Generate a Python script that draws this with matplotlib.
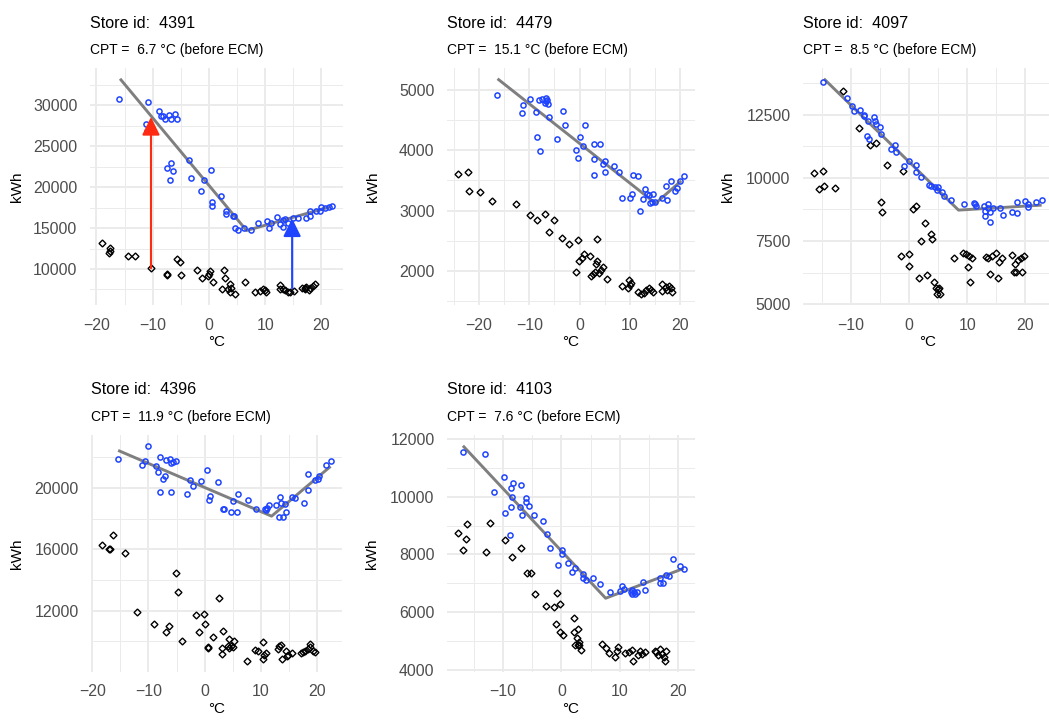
import numpy as np
import matplotlib
matplotlib.use('Agg')
from matplotlib import pyplot as plt
from matplotlib.ticker import MultipleLocator

plt.rcParams['font.family'] = ['Liberation Sans', 'DejaVu Sans']

# store 4391
bx_4391 = [-16.0, -10.9, -11.0, -11.2, -8.9, -8.5, -8.2, -7.8, -7.1, -6.8, -6.1, -5.7, -7.4, -6.8, -6.4, -7.0,
           -3.5, -3.1, -0.9, -1.4, 0.3, 0.5, 0.5, 2.1, 3.0, 3.0, 4.2, 4.4, 4.7, 5.2, 6.2, 7.5, 8.7, 10.3, 10.7,
           11.0, 12.1, 12.6, 13.1, 13.2, 13.6, 14.0, 15.0, 15.8, 17.2, 17.9, 18.0, 19.0, 19.8, 19.9, 20.7, 21.3, 21.8]
by_4391 = [30810, 30450, 26830, 27760, 29350, 28700, 28700, 28290, 28860, 28290, 28980, 28370, 22400, 22970, 21990,
           20850, 23290, 21060, 20930, 19510, 22110, 18130, 17640, 18940, 17070, 16670, 16500, 16460, 15040, 14720,
           15000, 14760, 15570, 15850, 14960, 15610, 16300, 15490, 15980, 15080, 16060, 15650, 16180, 16180, 16260,
           17110, 16500, 17110, 17070, 17520, 17440, 17520, 17640]
dx_4391 = [-19.1, -17.6, -17.6, -17.7, -14.4, -13.1, -10.3, -7.5, -7.5, -5.7, -5.2, -5.0, -2.1, -1.2, -0.2, 0.0, 0.2,
           0.8, 2.6, 2.9, 2.3, 3.8, 4.0, 3.7, 3.4, 4.7, 6.4, 8.2, 9.0, 9.7, 10.1, 9.9, 12.6, 12.6, 13.1, 13.6, 14.0,
           14.5, 15.1, 16.6, 17.0, 17.2, 17.8, 18.0, 18.5, 18.9, 17.1]
dy_4391 = [13130, 12600, 12190, 11910, 11630, 11630, 10080, 9430, 9270, 11220, 10810, 9270, 9840, 8940, 9190, 9430,
           9760, 8460, 9880, 8860, 7560, 8130, 7720, 7240, 7560, 6910, 8460, 7160, 7320, 7560, 7240, 7400, 8050, 7560,
           7520, 7400, 7240, 7200, 7360, 7720, 7640, 7850, 7480, 7720, 7970, 8210, 7560]
lx_4391 = [-15.8, 6.7, 21.6]
ly_4391 = [33250, 14700, 17600]

# store 4479
bx_4479 = [-16.4, -11.5, -11.2, -9.9, -8.7, -8.4, -8.0, -7.8, -7.4, -6.8, -6.6, -6.5, -6.2, -6.1, -6.7, -4.4, -3.3,
           -2.9, -0.8, -0.3, 0.1, 0.7, 1.0, 2.9, 4.0, 2.9, 2.9, 4.6, 5.0, 5.0, 6.8, 7.8, 8.5, 10.1, 10.6, 10.4, 11.7,
           12.0, 12.6, 13.0, 13.4, 13.7, 14.0, 14.4, 14.6, 15.0, 16.3, 17.2, 17.3, 18.2, 18.9, 19.4, 19.9, 20.7]
by_4479 = [4907, 4611, 4753, 4841, 4632, 4216, 4830, 3991, 4841, 4786, 4863, 4824, 4764, 4545, 4819, 4188, 4654, 4408,
           4007, 3864, 4216, 4073, 4413, 4095, 4106, 3848, 3590, 3771, 3821, 3634, 3738, 3645, 3206, 3206, 3590, 3272,
           3579, 2987, 3184, 3349, 3272, 3261, 3129, 3140, 3278, 3140, 3206, 3415, 3179, 3492, 3332, 3371, 3492, 3568]
dx_4479 = [-24.1, -22.1, -22.0, -19.8, -17.4, -12.7, -9.9, -8.5, -6.8, -6.1, -5.1, -3.4, -2.0, -0.3, -0.8, -0.1, 0.4,
           0.8, 2.1, 3.5, 2.2, 2.7, 3.1, 3.3, 3.5, 3.8, 4.2, 4.6, 5.5, 8.5, 9.9, 10.0, 9.6, 10.3, 11.7, 12.3, 12.9,
           13.2, 13.7, 14.1, 14.6, 16.4, 16.4, 17.2, 17.4, 17.7, 18.1, 18.3]
dy_4479 = [3607, 3634, 3316, 3305, 3157, 3113, 2932, 2839, 2948, 2647, 2844, 2548, 2455, 2515, 1988, 2164, 2219, 2285,
           2241, 2537, 1912, 1944, 1988, 2120, 2158, 1966, 2010, 2071, 1862, 1758, 1846, 1769, 1725, 1802, 1659, 1616,
           1643, 1681, 1714, 1681, 1648, 1780, 1670, 1736, 1681, 1747, 1714, 1659]
lx_4479 = [-16.3, 15.1, 20.2]
ly_4479 = [5181, 3120, 3492]

# store 4097
bx_4097 = [-14.8, -10.7, -9.8, -9.4, -8.4, -7.8, -7.7, -7.0, -6.0, -5.9, -5.7, -5.0, -4.8, -7.3, -6.9, -2.4, -3.1,
           -2.2, -0.9, 0.0, 1.1, 1.2, 2.0, 3.5, 3.7, 4.5, 5.0, 4.8, 5.6, 6.0, 7.2, 9.5, 11.2, 11.3, 11.5, 12.8, 13.1,
           13.1, 13.5, 13.6, 14.0, 14.0, 14.4, 15.7, 16.2, 17.7, 18.5, 18.6, 19.9, 20.4, 20.5, 21.8, 22.8]
by_4097 = [13790, 13171, 12842, 12632, 12684, 12500, 12447, 12263, 12408, 12250, 12118, 12000, 11724, 11671, 11553,
           11316, 11132, 11013, 10474, 10671, 10526, 10250, 10026, 9711, 9671, 9645, 9632, 9500, 9447, 9276, 9132,
           8947, 9013, 8947, 8895, 8895, 8684, 8500, 8947, 8816, 8263, 8658, 8816, 8790, 8513, 8658, 8618, 9026,
           9079, 8947, 8842, 9053, 9105]
dx_4097 = [-16.3, -15.5, -14.9, -14.7, -12.8, -11.4, -8.6, -6.8, -5.7, -4.9, -4.7, -3.8, -1.0, -1.4, -0.1, 0.0, 0.6,
           1.1, 1.7, 2.0, 2.7, 3.1, 3.8, 4.0, 4.3, 4.7, 4.8, 5.0, 5.2, 5.3, 7.8, 9.2, 9.8, 10.2, 10.5, 10.3, 10.9,
           13.3, 13.6, 13.9, 14.2, 14.9, 15.3, 15.5, 16.0, 17.7, 18.1, 18.2, 18.4, 18.8, 19.2, 19.4, 19.8]
dy_4097 = [10184, 9566, 10289, 9697, 9605, 13447, 11974, 11289, 11395, 9026, 8658, 10526, 10276, 6908, 6974, 6513,
           8776, 8895, 6026, 7487, 8211, 6158, 7789, 7566, 5895, 5658, 5408, 5605, 5632, 5395, 6842, 7039, 6987,
           6474, 5882, 6921, 6842, 6868, 6842, 6184, 6908, 7039, 6040, 6684, 6816, 6934, 6263, 6592, 6276, 6737,
           6816, 6263, 6908]
lx_4097 = [-14.66, 8.5, 22.8]
ly_4097 = [13921, 8724, 8921]

# store 4396
bx_4396 = [-15.5, -11.2, -10.7, -10.1, -8.7, -8.3, -7.9, -7.5, -7.0, -6.8, -7.9, -6.1, -6.0, -5.7, -5.1, -6.0, -3.1,
           -2.7, -2.1, -0.6, 0.4, 0.8, 1.0, 2.4, 3.2, 3.5, 4.7, 5.0, 5.7, 6.0, 7.7, 9.2, 10.8, 11.0, 10.9, 11.5, 12.6,
           13.2, 13.4, 13.5, 13.9, 14.3, 14.4, 15.6, 16.1, 17.7, 18.3, 18.4, 19.6, 20.2, 20.4, 21.6, 22.4]
by_4396 = [21881, 21514, 21773, 22746, 21449, 21038, 22032, 20605, 20778, 21838, 19719, 21903, 21622, 21708, 21751,
           19719, 19589, 20497, 20151, 20476, 21168, 19200, 19503, 20368, 18616, 18616, 18422, 19157, 18443, 19632,
           19200, 18616, 18638, 18724, 18551, 18897, 18919, 18076, 19395, 19027, 18076, 18984, 18443, 19395, 19351,
           19049, 19870, 20886, 20497, 20562, 20757, 21514, 21751]
dx_4396 = [-18.2, -17.1, -16.9, -16.3, -14.2, -12.0, -9.0, -6.9, -6.4, -5.1, -4.8, -4.1, -1.6, -1.1, -0.1, 0.1, 0.5,
           0.6, 1.4, 2.5, 3.2, 3.0, 3.0, 4.3, 4.2, 4.4, 4.7, 5.1, 5.3, 7.5, 9.0, 9.4, 10.3, 10.3, 10.5, 10.9, 13.0,
           13.3, 13.6, 13.7, 14.5, 14.6, 14.9, 15.5, 17.2, 17.5, 17.9, 18.3, 18.7, 18.8, 19.3, 19.6]
dy_4396 = [16259, 16022, 16022, 16951, 15741, 11914, 11135, 10616, 10984, 14486, 13211, 10011, 11741, 10616, 11762,
           11157, 9622, 9557, 10292, 12822, 10659, 9557, 9211, 10162, 9686, 9578, 9730, 9643, 10011, 8714, 9427, 9405,
           9946, 8865, 9146, 9254, 9514, 9686, 9795, 8865, 9362, 9038, 9124, 9254, 9254, 9319, 9362, 9514, 9643,
           9859, 9362, 9297]
lx_4396 = [-15.4, 11.9, 22.4]
ly_4396 = [22443, 18162, 21405]

# store 4103
bx_4103 = [-16.9, -13.1, -11.6, -9.9, -9.7, -8.9, -8.7, -8.5, -8.7, -8.3, -7.0, -7.1, -6.7, -6.0, -6.0, -5.5, -4.7,
           -3.1, -2.4, -1.9, -0.5, 0.1, 0.1, 1.2, 1.9, 2.4, 3.7, 3.7, 4.2, 5.5, 6.6, 8.4, 10.1, 10.4, 10.8, 12.0,
           12.1, 12.4, 12.6, 12.9, 12.1, 14.0, 14.4, 16.9, 17.0, 17.5, 17.9, 18.4, 19.2, 20.3, 21.0]
by_4103 = [11530, 11461, 10166, 10682, 9433, 8665, 9627, 9971, 10304, 10476, 10407, 9627, 9375, 9960, 9822, 9673,
           9375, 9169, 8711, 8229, 7633, 8138, 8011, 7702, 7381, 7530, 7324, 7175, 7129, 7175, 6980, 6716, 6728,
           6923, 6808, 6693, 6625, 6716, 6647, 6716, 6762, 7060, 6785, 7186, 7014, 7014, 7289, 7267, 7840, 7610, 7496]
dx_4103 = [-17.7, -16.4, -16.2, -16.9, -12.9, -12.2, -9.7, -8.4, -7.0, -5.9, -5.2, -4.5, -2.6, -1.2, -0.8, -0.2,
           -1.0, -0.3, 0.3, 2.2, 2.2, 2.8, 2.6, 2.4, 2.9, 3.1, 3.4, 3.1, 7.0, 7.6, 8.1, 9.2, 9.6, 9.8, 11.0, 11.6,
           12.1, 12.3, 13.2, 13.5, 13.8, 14.4, 16.0, 16.3, 16.6, 16.9, 17.2, 17.6, 17.8, 17.9]
dy_4103 = [8745, 8550, 9043, 8160, 8103, 9100, 8516, 7920, 8241, 7358, 7358, 6636, 6212, 6178, 6670, 6292, 5582,
           5318, 5226, 5799, 5318, 5410, 5112, 4860, 4883, 4974, 4688, 4860, 4894, 4768, 4584, 4447, 4653, 4791,
           4596, 4642, 4688, 4332, 4527, 4676, 4561, 4630, 4676, 4619, 4527, 4745, 4573, 4458, 4309, 4653]
lx_4103 = [-16.9, 7.6, 21.0]
ly_4103 = [11759, 6487, 7519]

stores = ['4391', '4479', '4097', '4396', '4103']
cpts = ['6.7', '15.1', '8.5', '11.9', '7.6']
ystep = [5000, 1000, 2500, 4000, 2000]

# arrows on store 4391
arrow_x = [-10.3, 14.8]
arrow_y0 = [10080, 7640]
arrow_y1 = [28580, 16180]
arrow_col = ['#ff2a12', '#1f44ff']

data = {
    '4391': (bx_4391, by_4391, dx_4391, dy_4391, lx_4391, ly_4391),
    '4479': (bx_4479, by_4479, dx_4479, dy_4479, lx_4479, ly_4479),
    '4097': (bx_4097, by_4097, dx_4097, dy_4097, lx_4097, ly_4097),
    '4396': (bx_4396, by_4396, dx_4396, dy_4396, lx_4396, ly_4396),
    '4103': (bx_4103, by_4103, dx_4103, dy_4103, lx_4103, ly_4103),
}

W, H = 1049, 722
# panel boxes in pixels: left, top, right, bottom
boxes = [(90, 68, 343, 305), (447, 68, 695, 305), (803, 68, 1053, 305),
         (91, 435, 342, 672), (447, 435, 695, 672)]
ylab_x = [24, 380, 735, 24, 379]  # right edge of the rotated kWh label

fig = plt.figure(figsize=(W / 100, H / 100), dpi=100)
blue = '#1f44ff'

for i, s in enumerate(stores):
    l, t, r, b = boxes[i]
    ax = fig.add_axes([l / W, 1 - b / H, (r - l) / W, (b - t) / H])
    bx, by, dx, dy, lx, ly = data[s]

    ax.plot(lx, ly, color='#7f7f7f', lw=2.1, solid_capstyle='butt', zorder=2)
    ax.plot(dx, dy, 'D', ms=3.5, mfc='none', mec='black', mew=1.0, zorder=3)
    ax.plot(bx, by, 'o', ms=3.7, mfc='none', mec=blue, mew=1.1, zorder=4)

    if s == '4391':
        for ax_, y0, y1, c in zip(arrow_x, arrow_y0, arrow_y1, arrow_col):
            ax.annotate('', xy=(ax_, y1), xytext=(ax_, y0),
                        arrowprops=dict(arrowstyle='-|>,head_length=0.55,head_width=0.27',
                                        mutation_scale=20, color=c, lw=1.5,
                                        shrinkA=0, shrinkB=0), zorder=5)

    # ggplot style 5% expansion
    xs = np.concatenate([bx, dx, lx])
    ys = np.concatenate([by, dy, ly])
    xr = xs.max() - xs.min()
    yr = ys.max() - ys.min()
    ax.set_xlim(xs.min() - 0.05 * xr, xs.max() + 0.05 * xr)
    ax.set_ylim(ys.min() - 0.05 * yr, ys.max() + 0.05 * yr)

    ax.xaxis.set_major_locator(MultipleLocator(10))
    ax.xaxis.set_minor_locator(MultipleLocator(5))
    ax.yaxis.set_major_locator(MultipleLocator(ystep[i]))
    ax.yaxis.set_minor_locator(MultipleLocator(ystep[i] / 2))
    ax.grid(which='major', color='#ebebeb', lw=1.4)
    ax.grid(which='minor', color='#ebebeb', lw=0.7)
    ax.set_axisbelow(True)
    for sp in ax.spines.values():
        sp.set_visible(False)
    ax.tick_params(which='both', length=0, labelsize=11.4, labelcolor='#4d4d4d', pad=9)

    ax.set_xlabel('°C', fontsize=11)
    ax.xaxis.set_label_coords(0.5, -30 / (b - t))
    ax.set_ylabel('kWh', fontsize=11)
    ax.yaxis.set_label_coords((ylab_x[i] - l) / (r - l), 0.5)

    fig.text(l / W, 1 - (t - 45) / H, 'Store id:  ' + s, fontsize=11.6, va='center', ha='left')
    fig.text(l / W, 1 - (t - 18) / H, 'CPT =  ' + cpts[i] + ' °C (before ECM)', fontsize=10,
             va='center', ha='left')

fig.savefig('out.png', dpi=100)
